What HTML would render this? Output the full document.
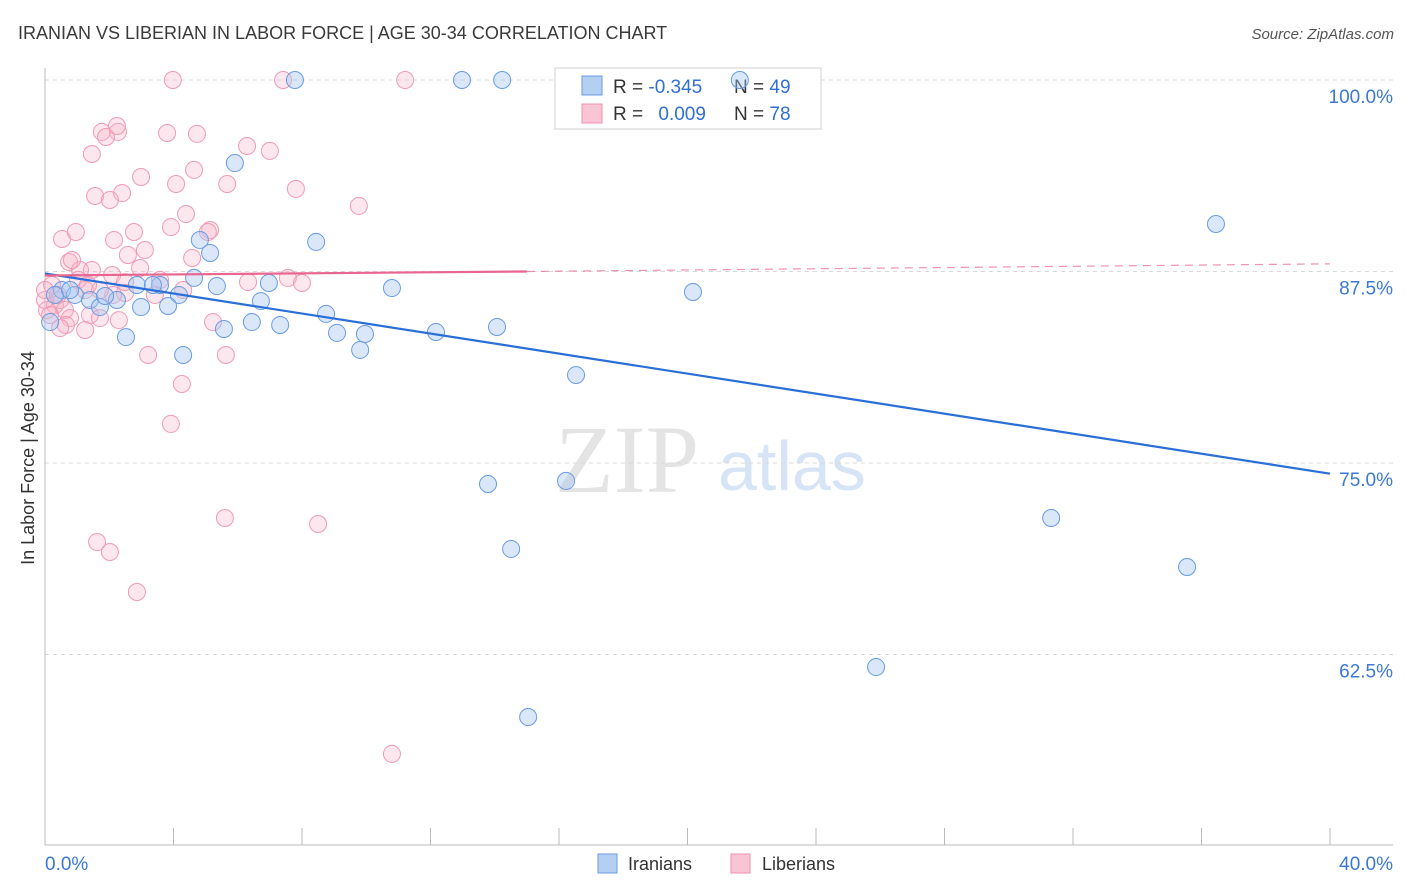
<!DOCTYPE html>
<html><head><meta charset="utf-8"><style>
body{margin:0;background:#fff;font-family:"Liberation Sans",sans-serif;}
#wrap{position:relative;width:1406px;height:892px;overflow:hidden;}
svg text{font-family:"Liberation Sans",sans-serif;}
</style></head><body>
<div id="wrap">
<svg id="chart" width="1406" height="892">
<text x="18" y="39" font-size="18" fill="#3a3a3a">IRANIAN VS LIBERIAN IN LABOR FORCE | AGE 30-34 CORRELATION CHART</text>
<text x="1394" y="39" font-size="15" fill="#555" font-style="italic" text-anchor="end">Source: ZipAtlas.com</text>
<text x="34" y="458" font-size="18" fill="#333" text-anchor="middle" transform="rotate(-90 34 458)">In Labor Force | Age 30-34</text>
<text x="555" y="492" font-size="96" fill="#e4e4e4" style="font-family:'Liberation Serif',serif">ZIP</text>
<text x="718" y="490" font-size="70" fill="#d6e4f6">atlas</text>
<g id="grid"></g><g id="axes"></g>
<g>
<rect x="555" y="68" width="266" height="61" fill="#fff" stroke="#d0d0d0"/>
<rect x="582" y="76" width="20" height="19" fill="#b5cff3" stroke="#6b9be0"/>
<rect x="582" y="104" width="20" height="19" fill="#f9c5d4" stroke="#ee8fae"/>
<text x="613" y="93" font-size="19" fill="#333">R = <tspan fill="#2f6fd6">-0.345</tspan></text>
<text x="734" y="93" font-size="19" fill="#333">N = <tspan fill="#2f6fd6">49</tspan></text>
<text x="613" y="120" font-size="19" fill="#333">R = <tspan fill="#2f6fd6" dx="10">0.009</tspan></text>
<text x="734" y="120" font-size="19" fill="#333">N = <tspan fill="#2f6fd6">78</tspan></text>
</g>
<g id="pinkPts"></g><g id="bluePts"></g><g id="trends"></g>
<g>
<rect x="598" y="854" width="19" height="19" fill="#b5cff3" stroke="#6b9be0"/>
<text x="628" y="870" font-size="18" fill="#333">Iranians</text>
<rect x="731" y="854" width="19" height="19" fill="#f9c5d4" stroke="#ee8fae"/>
<text x="762" y="870" font-size="18" fill="#333">Liberians</text>
</g>
</svg>
</div>
<script>
const xTicksVals=[0,40];
const xTickLabels=["0.0%","40.0%"];
const yTickVals=[100,87.5,75,62.5];
const yTickLabels=["100.0%","87.5%","75.0%","62.5%"];
const blueX=[7.78,12.98,14.23,21.63,5.91,4.82,8.44,5.14,36.45,4.64,6.97,3.58,2.86,5.35,4.17,0.53,0.93,1.40,2.24,1.71,2.99,3.83,6.72,8.75,10.80,20.17,6.44,7.32,5.57,9.09,9.96,12.17,14.07,2.52,4.30,9.81,16.53,13.79,16.22,14.51,31.32,35.55,25.87,15.04,0.16,0.31,1.87,0.78,3.36];
const blueY=[100,100,100,100,94.58,89.56,89.43,88.71,90.60,87.08,86.75,86.62,86.62,86.55,85.97,86.29,85.97,85.64,85.64,85.18,85.18,85.25,85.57,84.73,86.42,86.16,84.20,84.01,83.75,83.49,83.42,83.55,83.88,83.22,82.05,82.38,80.74,73.63,73.83,69.39,71.41,68.21,61.68,58.42,84.20,85.97,85.90,86.29,86.62];
const pinkX=[3.98,7.41,11.21,1.77,2.27,1.90,2.24,3.80,4.73,1.46,7.00,6.29,2.99,4.64,4.08,5.67,7.81,1.56,2.40,2.02,9.77,4.39,3.92,5.14,5.07,0.53,0.96,2.15,2.77,2.58,3.11,4.58,0.75,1.09,1.46,2.09,3.58,7.56,8.00,2.49,3.42,6.32,0.47,0.31,0.06,0.62,0.78,1.40,1.25,1.71,2.30,5.23,3.21,5.63,0.65,4.26,3.92,5.60,8.50,1.62,2.02,2.86,10.80,1.03,0.22,0.00,0.00,0.40,1.25,2.12,2.49,1.71,2.96,4.30,0.84,1.34,0.16,0.47];
const pinkY=[100,100,100,96.61,96.61,96.28,97.00,96.54,96.48,95.17,95.37,95.69,93.67,94.13,93.21,93.21,92.89,92.43,92.62,92.17,91.78,91.25,90.40,90.21,90.08,89.62,90.08,89.56,90.08,88.58,88.90,88.38,88.12,87.60,87.60,87.27,86.95,87.08,86.75,86.10,85.97,86.81,85.64,85.31,84.99,84.99,84.46,84.66,83.68,84.46,84.33,84.20,82.05,82.05,84.01,80.16,77.55,71.41,71.02,69.84,69.19,66.58,56.01,86.95,86.62,85.64,86.29,85.97,86.29,85.97,86.81,86.29,87.73,86.29,88.25,86.62,84.66,83.81];
const blueTrendX=[0,40];
const blueTrendY=[87.37,74.3];
const pinkTrendX=[0,15,40];
const pinkTrendY=[87.24,87.5,88.0];

const NS="http://www.w3.org/2000/svg";
function sx(v){return 45+v*(1285/40);}
function sy(v){return 80+(100-v)*(191.5/12.5);}
function mk(tag,attrs,parent){const e=document.createElementNS(NS,tag);for(const k in attrs)e.setAttribute(k,attrs[k]);parent.appendChild(e);return e;}
const grid=document.getElementById('grid'),axes=document.getElementById('axes');
yTickVals.forEach((v,i)=>{
  const l=mk('line',{x1:45,x2:1393,y1:sy(v),y2:sy(v),stroke:'#d8d8d8','stroke-dasharray':'4,4'},grid);
  
  
  const t=mk('text',{x:1393,y:sy(v)+23,'font-size':19,fill:'#3b78d8','text-anchor':'end'},axes);
  t.textContent=yTickLabels[i];
  
  
});
const yl=mk('line',{x1:45,x2:45,y1:68,y2:845,stroke:'#bbb'},axes);


const xl=mk('line',{x1:45,x2:1393,y1:845,y2:845,stroke:'#bbb'},axes);


for(let k=0;k<=10;k++){
  const tk=mk('line',{x1:sx(k*4),x2:sx(k*4),y1:828,y2:845,stroke:'#bbb'},axes);
  
  
}
xTicksVals.forEach((v,i)=>{
  const t=mk('text',{x:i==0?sx(v):1393,y:870,'font-size':19,fill:'#3b78d8','text-anchor':i==0?'start':'end'},axes);
  t.textContent=xTickLabels[i];
  
  
});
const pg=document.getElementById('pinkPts');
pinkX.forEach((x,i)=>{
  const c=mk('circle',{cx:sx(x),cy:sy(pinkY[i]),r:8.5,fill:'rgba(248,180,202,0.32)',stroke:'#f09ab6','stroke-width':1},pg);
  
  
});
const bg=document.getElementById('bluePts');
blueX.forEach((x,i)=>{
  const c=mk('circle',{cx:sx(x),cy:sy(blueY[i]),r:8.5,fill:'rgba(165,198,240,0.42)',stroke:'#6a9be2','stroke-width':1},bg);
  
  
});
const tg=document.getElementById('trends');
const bt=mk('line',{x1:sx(blueTrendX[0]),y1:sy(blueTrendY[0]),x2:sx(blueTrendX[1]),y2:sy(blueTrendY[1]),stroke:'#2a6fd8','stroke-width':2.2},tg);


const pt=mk('line',{x1:sx(pinkTrendX[0]),y1:sy(pinkTrendY[0]),x2:sx(pinkTrendX[1]),y2:sy(pinkTrendY[1]),stroke:'#e8668f','stroke-width':2.2},tg);


const pd=mk('line',{x1:sx(pinkTrendX[1]),y1:sy(pinkTrendY[1]),x2:sx(pinkTrendX[2]),y2:sy(pinkTrendY[2]),stroke:'#e8668f','stroke-width':1.2,'stroke-dasharray':'8,6',opacity:0.7},tg);


</script>
</body></html>
